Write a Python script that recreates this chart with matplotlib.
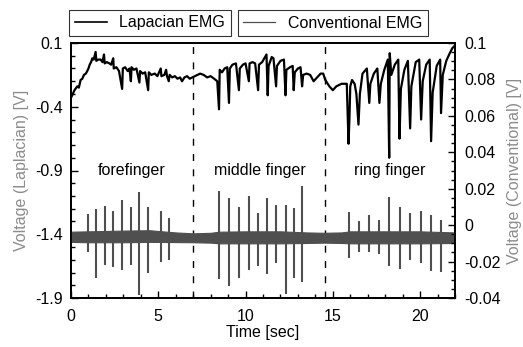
import matplotlib
matplotlib.use("Agg")
import matplotlib.pyplot as plt
from matplotlib.ticker import MultipleLocator
from matplotlib.lines import Line2D

plt.rcParams['font.family'] = ['Liberation Sans', 'DejaVu Sans']

# ---------------- data ----------------
# Laplacian EMG trace (left axis)
lap_t = [0.0, 0.1, 0.2, 0.36, 0.45, 0.55, 0.65, 0.74, 0.85, 0.93, 1.0, 1.07, 1.15, 1.22, 1.3,
         1.41, 1.45, 1.55, 1.7, 1.8, 1.89, 1.93, 2.05, 2.2, 2.3, 2.42, 2.45, 2.6, 2.75, 2.93,
         2.97, 3.1, 3.25, 3.35, 3.43, 3.47, 3.6, 3.75, 3.92, 3.96, 4.1, 4.25, 4.42, 4.46, 4.6,
         4.8, 4.95, 5.14, 5.18, 5.35, 5.45, 5.5, 5.6, 5.65, 5.8, 5.95, 6.1, 6.25, 6.36, 6.5,
         6.65, 6.8, 6.95, 7.1, 7.25, 7.4, 7.6, 7.8, 8.0, 8.2, 8.38, 8.48, 8.52, 8.65, 8.8,
         8.95, 9.05, 9.1, 9.25, 9.45, 9.62, 9.67, 9.85, 10.0, 10.19, 10.23, 10.4, 10.55, 10.72,
         10.77, 10.95, 11.2, 11.27, 11.32, 11.5, 11.6, 11.75, 11.8, 12.0, 12.2, 12.29, 12.34,
         12.55, 12.7, 12.76, 12.82, 13.0, 13.15, 13.24, 13.3, 13.5, 13.7, 13.9, 14.1, 14.3,
         14.45, 14.57, 14.8, 15.0, 15.2, 15.5, 15.8, 15.9, 15.95, 16.0, 16.1, 16.25, 16.35,
         16.47, 16.55, 16.7, 16.95, 17.09, 17.15, 17.35, 17.55, 17.67, 17.75, 17.95, 18.15,
         18.23, 18.26, 18.35, 18.55, 18.75, 18.82, 18.9, 19.1, 19.3, 19.43, 19.5, 19.75, 19.95,
         20.06, 20.15, 20.35, 20.55, 20.63, 20.72, 20.95, 21.15, 21.2, 21.3, 21.5, 21.7, 21.85,
         22.0]
lap_v = [-0.33, -0.30, -0.27, -0.24, -0.25, -0.19, -0.18, -0.15, -0.14, -0.12, -0.10, -0.07, -0.05, -0.02, -0.03,
         0.03, -0.04, -0.03, -0.03, -0.05, 0.01, -0.06, -0.05, -0.06, -0.07, -0.02, -0.10, -0.09, -0.12, -0.26,
         -0.10, -0.09, -0.12, -0.10, -0.20, -0.09, -0.11, -0.10, -0.21, -0.12, -0.14, -0.13, -0.27, -0.13, -0.15,
         -0.14, -0.16, -0.10, -0.16, -0.15, -0.11, -0.16, -0.20, -0.15, -0.17, -0.16, -0.18, -0.17, -0.20, -0.17,
         -0.16, -0.18, -0.17, -0.16, -0.15, -0.14, -0.15, -0.17, -0.16, -0.18, -0.20, -0.42, -0.11, -0.13, -0.10,
         -0.09, -0.37, -0.10, -0.07, -0.06, -0.27, -0.10, -0.07, -0.06, -0.20, -0.06, -0.05, -0.06, -0.27,
         -0.07, -0.05, 0.01, -0.31, -0.08, -0.01, -0.02, -0.24, -0.08, -0.04, -0.03, -0.31, -0.11,
         -0.09, -0.08, -0.27, -0.13, -0.10, -0.09, -0.24, -0.15, -0.14, -0.15, -0.20, -0.17, -0.14,
         -0.14, -0.19, -0.24, -0.27, -0.24, -0.22, -0.22, -0.69, -0.50, -0.24, -0.19, -0.22, -0.30,
         -0.54, -0.30, -0.14, -0.10, -0.37, -0.22, -0.14, -0.10, -0.37, -0.22, -0.11, -0.03,
         -0.80, 0.02, -0.15, -0.07, -0.03, -0.65, -0.26, -0.11, -0.04, -0.57, -0.24, -0.05, -0.03,
         -0.50, -0.20, -0.07, -0.03, -0.67, -0.29, -0.08, -0.03, -0.45, -0.15, -0.04, 0.02, 0.06,
         0.08]

# Conventional EMG (right axis): noise band envelope + spikes
conv_env_t = [0.0, 1.0, 3.0, 4.5, 6.0, 7.0, 8.0, 8.5, 10.0, 12.0, 13.5, 14.5, 15.5, 16.0, 18.0, 20.0, 22.0]
conv_env_hi = [-0.0036, -0.0034, -0.0030, -0.0028, -0.0040, -0.0045, -0.0042, -0.0036, -0.0034, -0.0034,
               -0.0040, -0.0042, -0.0040, -0.0034, -0.0034, -0.0034, -0.0040]
conv_env_lo = [-0.0092, -0.0094, -0.0094, -0.0092, -0.0093, -0.0094, -0.0096, -0.0100, -0.0100, -0.0100,
               -0.0098, -0.0096, -0.0098, -0.0100, -0.0100, -0.0100, -0.0098]
spike_t = [0.97, 1.41, 1.93, 2.42, 2.93, 3.43, 3.92, 4.42, 5.14, 5.6,
           8.48, 9.05, 9.62, 10.19, 10.72, 11.24, 11.75, 12.29, 12.76, 13.24,
           15.9, 16.51, 17.1, 17.66, 18.23, 18.86, 19.43, 20.06, 20.63, 21.2]
spike_top = [0.0061, 0.0087, 0.0105, 0.0078, 0.0138, 0.0100, 0.0184, 0.0101, 0.0078, 0.0038,
             0.0189, 0.0151, 0.0101, 0.0162, 0.0068, 0.0151, 0.0110, 0.0110, 0.0092, 0.0217,
             0.0074, 0.0024, 0.0056, 0.0028, 0.0156, 0.0101, 0.0068, 0.0078, 0.0056, 0.0028]
spike_bot = [-0.0146, -0.0290, -0.0219, -0.0228, -0.0246, -0.0219, -0.0384, -0.0263, -0.0201, -0.0191,
             -0.0296, -0.0334, -0.0292, -0.0246, -0.0224, -0.0268, -0.0210, -0.0380, -0.0292, -0.0311,
             -0.0182, -0.0146, -0.0146, -0.0158, -0.0224, -0.0242, -0.0191, -0.0210, -0.0250, -0.0259]

phase_bounds = [7.0, 14.57]
phase_labels = ["forefinger", "middle finger", "ring finger"]
phase_label_x = [3.46, 10.83, 18.27]
phase_label_y = -0.9

# ---------------- plot ----------------
fig = plt.figure(figsize=(5.23, 3.47), dpi=100)
ax = fig.add_axes([71/523, 1 - 298/347, (455 - 71)/523, (298 - 43)/347])
ax2 = ax.twinx()

conv_color = '#4f4f4f'
ax2.fill_between(conv_env_t, conv_env_lo, conv_env_hi, color=conv_color, lw=0.8, edgecolor=conv_color)
ax2.vlines(spike_t, spike_bot, spike_top, color=conv_color, lw=1.5)

ax.plot(lap_t, lap_v, color='black', lw=1.6)

for b in phase_bounds:
    ax.axvline(b, color='black', lw=1.0, ls=(0, (5, 6)))

for lbl, x in zip(phase_labels, phase_label_x):
    ax.text(x, phase_label_y, lbl, ha='center', va='center', fontsize=11.5)

ax.set_xlim(0, 22)
ax.set_ylim(-1.9, 0.1)
ax2.set_ylim(-0.04, 0.1)

ax.set_xticks([0, 5, 10, 15, 20])
ax.xaxis.set_minor_locator(MultipleLocator(1))
ax.set_yticks([-1.9, -1.4, -0.9, -0.4, 0.1])
ax.set_yticklabels(['-1.9', '-1.4', '-0.9', '-0.4', '0.1'])
ax.yaxis.set_minor_locator(MultipleLocator(0.1))
ax2.set_yticks([-0.04, -0.02, 0, 0.02, 0.04, 0.06, 0.08, 0.1])
ax2.set_yticklabels(['-0.04', '-0.02', '0', '0.02', '0.04', '0.06', '0.08', '0.1'])
ax2.yaxis.set_minor_locator(MultipleLocator(0.005))

ax.tick_params(axis='both', which='both', direction='in', top=False, right=False, labelsize=11.5)
ax.tick_params(axis='both', which='major', length=5, width=1, pad=6)
ax.tick_params(axis='x', which='major', pad=8)
ax.tick_params(axis='both', which='minor', length=3, width=1)
ax2.tick_params(axis='y', which='both', direction='in', left=False, right=True, labelsize=11.5)
ax2.tick_params(axis='y', which='major', length=5, width=1, pad=7)
ax2.tick_params(axis='y', which='minor', length=3, width=1)

for sp in ax.spines.values():
    sp.set_linewidth(1.3)
for sp in ax2.spines.values():
    sp.set_linewidth(1.3)

ax.set_xlabel('Time [sec]', fontsize=11.5, labelpad=1)
ax.set_ylabel('Voltage (Laplacian) [V]', fontsize=11.5, color='#8c8c8c', labelpad=4)
ax2.set_ylabel('Voltage (Conventional) [V]', fontsize=11.5, color='#8c8c8c', labelpad=4)

h1 = [Line2D([], [], color='black', lw=1.2)]
h2 = [Line2D([], [], color=conv_color, lw=0.9)]
leg_kw = dict(loc='center', fontsize=11.5, frameon=True, fancybox=False, borderpad=0.35,
              handlelength=2.0, handletextpad=0.8)
l1 = fig.legend(h1, ['Lapacian EMG'], bbox_to_anchor=(150/523, 1 - 23/347), **leg_kw)
l2 = fig.legend(h2, ['Conventional EMG'], bbox_to_anchor=(333/523, 1 - 23/347), **leg_kw)
for l in (l1, l2):
    l.get_frame().set_edgecolor('black')
    l.get_frame().set_linewidth(0.8)

fig.savefig('out.png', dpi=100)
